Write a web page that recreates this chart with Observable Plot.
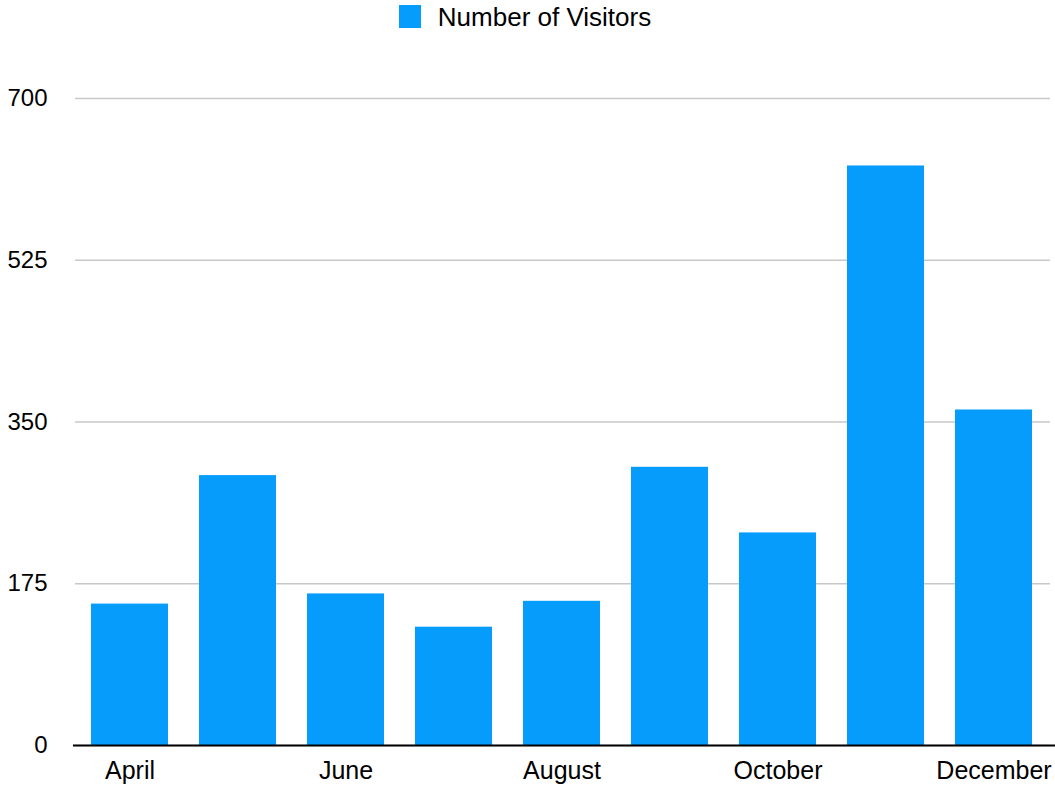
<!DOCTYPE html>
<html>
<head>
<meta charset="utf-8">
<script src="https://cdn.jsdelivr.net/npm/d3@7"></script>
<script src="https://cdn.jsdelivr.net/npm/@observablehq/plot@0.6"></script>
<style>
  html, body { margin: 0; padding: 0; background: #fff; }
  body { width: 1055px; height: 787px; overflow: hidden; font-family: "Liberation Sans", Arial, sans-serif; }
  #legend { height: 40px; display: flex; justify-content: center; align-items: flex-start; padding-top: 5px; padding-right: 5px; box-sizing: border-box; }
  #legend .sw { width: 22px; height: 23px; background: #069cfc; margin-right: 17px; }
  #legend .lb { font-size: 26px; line-height: 26px; color: #000; margin-top: -1px; }
</style>
</head>
<body>
<div id="legend"><div class="sw"></div><div class="lb">Number of Visitors</div></div>
<div id="chart"></div>
<script>
const months = ["April", "May", "June", "July", "August", "September", "October", "November", "December"];
const visitors = [153, 292, 164, 128, 156, 301, 230, 627, 363];
const xTickLabels = ["April", "June", "August", "October", "December"];
const yTicks = [0, 175, 350, 525, 700];
const seriesName = "Number of Visitors";
const barColor = "#069cfc";

const data = months.map((m, i) => ({month: m, value: visitors[i]}));

const chart = Plot.plot({
  width: 1055,
  height: 747,
  marginTop: 58,
  marginBottom: 42,
  marginLeft: 73,
  marginRight: 5,
  style: {fontFamily: "Liberation Sans, Arial, sans-serif", fontSize: "24px", color: "#000", background: "#fff"},
  x: {domain: months, paddingInner: 0.29, paddingOuter: 0.145, label: null},
  y: {domain: [0, 700], label: null},
  marks: [
    Plot.gridY(yTicks, {stroke: "#c8c8c8", strokeOpacity: 1, strokeWidth: 1.5, insetLeft: 2, insetRight: 0}),
    Plot.barY(data, {x: "month", y: "value", fill: barColor}),
    Plot.ruleY([0], {stroke: "#000", strokeWidth: 2, insetRight: -5}),
    Plot.axisY({ticks: yTicks, tickSize: 0, tickPadding: 26, label: null, fontSize: 24}),
    Plot.axisX({ticks: xTickLabels, tickSize: 0, tickPadding: 16, label: null, fontSize: 25})
  ]
});
document.getElementById("chart").appendChild(chart);
</script>
</body>
</html>
